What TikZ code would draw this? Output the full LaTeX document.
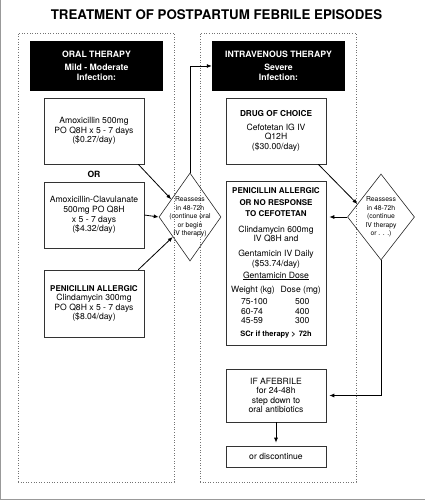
\documentclass[tikz,border=0pt]{standalone}
\usepackage{fontspec}
\setmainfont{TeX Gyre Heros}
\usetikzlibrary{shapes.geometric,arrows.meta,calc}
\begin{document}
\begin{tikzpicture}[x=1pt,y=-1pt,
  panel/.style={draw=black!55, dotted, line width=0.6pt, inner sep=0, minimum width=156pt, minimum height=449pt},
  hdr/.style={fill=black, text=white, font=\bfseries\fontsize{8.7}{10.5}\selectfont, align=center, minimum width=133pt, minimum height=50pt, inner sep=0},
  drug/.style={draw=black!80, line width=0.6pt, align=center, minimum width=100pt, inner sep=0, font=\fontsize{8.6}{9.6}\selectfont},
  dia/.style={diamond, draw=black!85, line width=0.6pt, inner sep=0},
  dtext/.style={align=center, font=\fontsize{6.8}{8.6}\selectfont, inner sep=0},
  conn/.style={draw=black, line width=0.8pt, -{Latex[length=5pt,width=4pt]}},
  bhead/.style={font=\bfseries\fontsize{8}{9.6}\selectfont},
]
\useasboundingbox (0,0) rectangle (425,500);
\draw[black!40, line width=1pt] (0.5,0) -- (0.5,499) -- (425,499);

\node[font=\bfseries\fontsize{13.3}{15}\selectfont, inner sep=0] (title) at (216.5,15) {TREATMENT OF POSTPARTUM FEBRILE EPISODES};

\node[panel] (lp) at (96,257.5) {};
\node[panel] (rp) at (278,257.5) {};

\node[hdr] (oralh) at (96.5,66) {ORAL THERAPY\\[2.5pt]Mild - Moderate\\Infection:};
\node[hdr] (ivh) at (278.5,66) {INTRAVENOUS THERAPY\\[2.5pt]Severe\\Infection:};

\node[drug, minimum height=66pt] (b1) at (94,131) {Amoxicillin 500mg\\PO Q8H x 5 - 7 days\\(\$0.27/day)};
\node[font=\bfseries\fontsize{8.6}{9.6}\selectfont, inner sep=0] (or) at (94,174) {OR};
\node[drug, minimum height=66pt] (b2) at (94,215) {Amoxicillin-Clavulanate\\500mg PO Q8H\\x 5 - 7 days\\(\$4.32/day)};
\node[drug, minimum height=67pt] (b3) at (94,303.5) {{\bfseries\fontsize{8}{9.6}\selectfont PENICILLIN ALLERGIC}\\Clindamycin 300mg\\PO Q8H x 5 - 7 days\\(\$8.04/day)};

\node[drug, minimum height=66pt] (dr) at (276,131) {{\bfseries\fontsize{8.2}{9.6}\selectfont DRUG OF CHOICE}\\[4pt]Cefotetan IG IV\\Q12H\\(\$30.00/day)};

\node[drug, minimum height=164pt] (pen) at (276,263) {%
{\bfseries\fontsize{8}{9.5}\selectfont PENICILLIN ALLERGIC}\\[2.5pt]
{\bfseries\fontsize{8}{9.5}\selectfont OR NO RESPONSE}\\[1.5pt]
{\bfseries\fontsize{8}{9.5}\selectfont TO CEFOTETAN}\\[6pt]
Clindamycin 600mg\\[-0.5pt]
IV Q8H and\\[6pt]
Gentamicin IV Daily\\[0.5pt]
(\$53.74/day)\\[1.5pt]
\underline{Gentamicin Dose}\\[5pt]
Weight (kg)\hspace{6pt}Dose (mg)\\[2.5pt]
\makebox[54pt][l]{75-100}\makebox[16pt][l]{500}\\[0.3pt]
\makebox[54pt][l]{60-74}\makebox[16pt][l]{400}\\[-0.5pt]
\makebox[54pt][l]{45-59}\makebox[16pt][l]{300}\\[3.5pt]
{\bfseries\fontsize{7.5}{9.5}\selectfont SCr if therapy >\hspace{3pt}72h}};

\node[drug, minimum height=53pt] (af) at (276,395.5) {IF AFEBRILE\\for 24-48h\\step down to\\oral antibiotics};
\node[drug, minimum height=21pt] (disc) at (276,456.5) {or discontinue};

\node[dia, minimum width=62pt, minimum height=88pt] (d1) at (190,217) {};
\node[dtext] (d1t) at (d1) {Reassess\\in 48-72h\\(continue oral\\or begin\\IV therapy)};
\node[dia, minimum width=67pt, minimum height=86pt] (d2) at (381,217) {};
\node[dtext] (d2t) at (d2) {Reassess\\in 48-72h\\(continue\\IV therapy\\or . . .)};

\draw[conn] ([xshift=-6pt]b1.south east) -- ($(d1.west)!0.4!(d1.north)$);
\draw[conn] (b2.east) -- (d1.west);
\draw[conn] ([xshift=-6pt]b3.north east) -- ($(d1.west)!0.45!(d1.south)$);
\draw[conn] (d1.north) |- (ivh.west);
\draw[conn] ([xshift=-8pt]dr.south east) -- ($(d2.west)!0.3!(d2.north)$);
\draw[conn, shorten >=3pt] (d2.west) -- (d2.west -| pen.east);
\draw[conn, shorten >=3pt] (d2.south) |- (af.east);
\draw[conn, shorten >=3pt] (af.south) -- (disc.north);
\end{tikzpicture}
\end{document}
